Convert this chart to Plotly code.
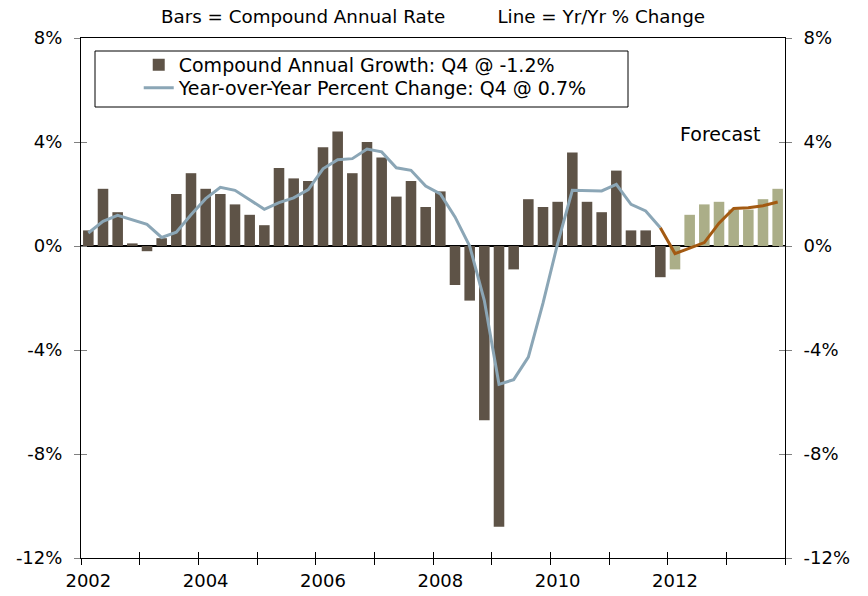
import plotly.graph_objects as go

years = list(range(2002, 2014))
quarters = [f"{y}Q{q}" for y in years for q in range(1, 5)]

# Compound annual growth (bars)
saar_hist = [0.6, 2.2, 1.3, 0.1,
             -0.2, 0.3, 2.0, 2.8,
             2.2, 2.0, 1.6, 1.2,
             0.8, 3.0, 2.6, 2.5,
             3.8, 4.4, 2.8, 4.0,
             3.4, 1.9, 2.5, 1.5,
             2.1, -1.5, -2.1, -6.7,
             -10.8, -0.9, 1.8, 1.5,
             1.7, 3.6, 1.7, 1.3,
             2.9, 0.6, 0.6, -1.2]
saar_fcst = [-0.9, 1.2, 1.6, 1.7,
             1.4, 1.4, 1.8, 2.2]

# Year-over-year percent change (line)
yoy_hist = [0.5, 0.95, 1.18, 1.0,
            0.83, 0.33, 0.53, 1.2,
            1.82, 2.26, 2.14, 1.78,
            1.41, 1.67, 1.85, 2.17,
            2.97, 3.32, 3.36, 3.73,
            3.62, 3.01, 2.91, 2.31,
            2.0, 1.12, 0.0, -2.1,
            -5.32, -5.14, -4.27, -2.2,
            0.1, 2.14, 2.13, 2.12,
            2.37, 1.6, 1.35, 0.7]
yoy_fcst = [-0.29, -0.08, 0.13, 0.88,
            1.44, 1.47, 1.55, 1.69]

y_ticks = [-12, -8, -4, 0, 4, 8]
y_tick_text = ["-12%", "-8%", "-4%", "0%", "4%", "8%"]
x_label_years = [2002, 2004, 2006, 2008, 2010, 2012]

n_hist = len(saar_hist)
n_all = len(quarters)
x_hist = list(range(n_hist))
x_fcst = list(range(n_hist, n_all))
x_fcst_line = [n_hist - 1] + x_fcst
yoy_fcst_line = [yoy_hist[-1]] + yoy_fcst

label_pos = [quarters.index(f"{y}Q1") for y in x_label_years]
boundaries = [i - 0.5 for i in range(0, n_all + 1, 4)]

BAR = "#5e5347"
BAR_F = "#abae88"
LINE = "#8ba6b6"
LINE_F = "#a35a12"
FONT = "DejaVu Sans"
XR = [-0.5, n_all - 0.5]
YR = [-12, 8]

fig = go.Figure()
fig.add_trace(go.Bar(x=x_hist, y=saar_hist, marker_color=BAR, marker_line_width=0,
                     name="Compound Annual Growth: Q4 @ -1.2%", legend="legend"))
fig.add_trace(go.Bar(x=x_fcst, y=saar_fcst, marker_color=BAR_F, marker_line_width=0,
                     showlegend=False))
fig.add_trace(go.Scatter(x=x_hist, y=yoy_hist, mode="lines", line=dict(color=LINE, width=3),
                         name="Year-over-Year Percent Change: Q4 @ 0.7%", legend="legend2"))
fig.add_trace(go.Scatter(x=x_fcst_line, y=yoy_fcst_line, mode="lines",
                         line=dict(color=LINE_F, width=3), showlegend=False))

tickfont = dict(family=FONT, size=18, color="black")
legfont = dict(family=FONT, size=19, color="black")

fig.update_layout(
    width=868, height=596,
    margin=dict(l=81, r=83, t=38, b=38, autoexpand=False),
    paper_bgcolor="white", plot_bgcolor="white",
    barmode="overlay", bargap=0.28,
    font=dict(family=FONT, size=18, color="black"),
    title=dict(text="Bars = Compound Annual Rate" + "\u00a0" * 9 + "Line = Yr/Yr % Change",
               x=0.5, xref="paper", xanchor="center", y=1 - 17 / 596, yanchor="middle",
               font=dict(family=FONT, size=18.3, color="black")),
    showlegend=True,
    legend=dict(x=0.082, y=1 - (65 - 38) / 520, xanchor="left", yanchor="middle",
                bgcolor="rgba(0,0,0,0)", borderwidth=0, font=legfont, itemwidth=30),
    legend2=dict(x=0.082, y=1 - (88 - 38) / 520, xanchor="left", yanchor="middle",
                 bgcolor="rgba(0,0,0,0)", borderwidth=0, font=legfont, itemwidth=30),
    xaxis=dict(range=XR, tickmode="array", tickvals=label_pos,
               ticktext=[str(y) for y in x_label_years], ticks="",
               tickfont=tickfont, ticklabelstandoff=6, automargin=False,
               showline=True, linecolor="black", linewidth=1, mirror=True,
               showgrid=False, zeroline=False),
    xaxis2=dict(range=XR, overlaying="x", anchor="y", side="bottom", automargin=False,
                tickmode="array", tickvals=boundaries, ticks="outside", ticklen=6,
                tickcolor="black", showticklabels=False, showgrid=False,
                zeroline=False, showline=False),
    xaxis3=dict(range=XR, overlaying="x", anchor="y", side="bottom", automargin=False,
                tickmode="array", tickvals=boundaries, ticks="inside", ticklen=6,
                tickcolor="black", showticklabels=False, showgrid=False,
                zeroline=False, showline=False),
    yaxis=dict(range=YR, tickmode="array", tickvals=y_ticks, ticktext=y_tick_text,
               ticks="outside", ticklen=6, tickcolor="#808080", tickwidth=1,
               tickfont=tickfont, ticklabelstandoff=8, automargin=False,
               showline=True, linecolor="black", linewidth=1,
               showgrid=False, zeroline=True, zerolinecolor="black", zerolinewidth=2),
    yaxis2=dict(range=YR, overlaying="y", side="right", anchor="x", automargin=False,
                tickmode="array", tickvals=y_ticks, ticktext=y_tick_text,
                ticks="outside", ticklen=6, tickcolor="#808080", tickwidth=1,
                tickfont=tickfont, ticklabelstandoff=8,
                showline=True, linecolor="black", linewidth=1,
                showgrid=False, zeroline=False),
    yaxis3=dict(range=YR, overlaying="y", side="left", anchor="x", automargin=False,
                tickmode="array", tickvals=y_ticks, ticks="inside", ticklen=6,
                tickcolor="#808080", showticklabels=False, showgrid=False,
                zeroline=False, showline=False),
    yaxis4=dict(range=YR, overlaying="y", side="right", anchor="x", automargin=False,
                tickmode="array", tickvals=y_ticks, ticks="inside", ticklen=6,
                tickcolor="#808080", showticklabels=False, showgrid=False,
                zeroline=False, showline=False),
    shapes=[dict(type="rect", xref="paper", yref="paper",
                 x0=(95 - 81) / 704, x1=(628 - 81) / 704,
                 y0=1 - (107 - 38) / 520, y1=1 - (51 - 38) / 520,
                 line=dict(color="black", width=1), fillcolor="white", layer="below")],
    annotations=[dict(text="Forecast", x=43.1, y=4.3, xref="x", yref="y",
                      showarrow=False, font=dict(family=FONT, size=19, color="black"))],
)

# invisible traces to anchor the overlay tick axes
for xa, ya in [("x2", "y"), ("x3", "y"), ("x", "y2"), ("x", "y3"), ("x", "y4")]:
    fig.add_trace(go.Scatter(x=[None], y=[None], xaxis=xa, yaxis=ya, showlegend=False,
                             hoverinfo="skip"))

fig.write_html("out.html",
               config={"displayModeBar": False},
               post_script="document.body.style.margin='0';document.body.style.padding='0';")
